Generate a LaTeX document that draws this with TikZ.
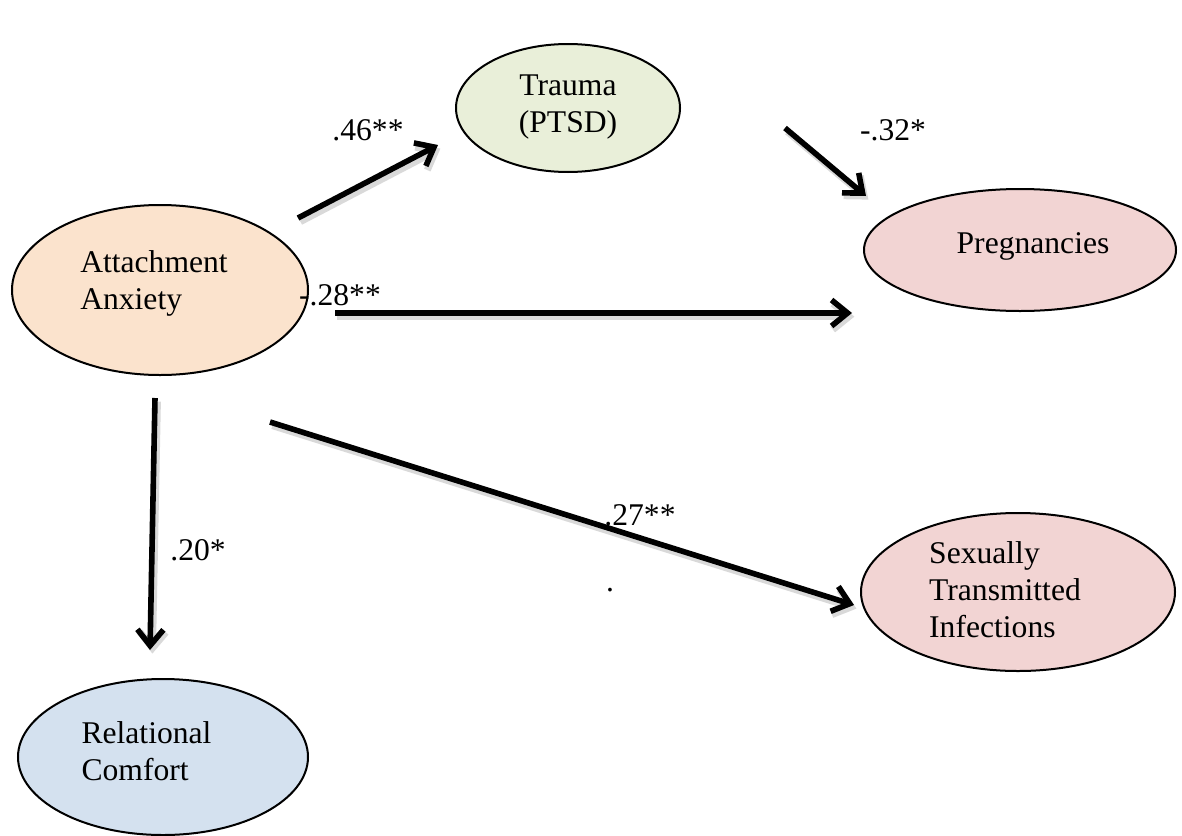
\documentclass[tikz,border=0pt]{standalone}
\usepackage{fontspec}
\setmainfont{Liberation Serif}
\usepackage{tikz}
\usetikzlibrary{arrows.meta,positioning,shapes.geometric}

\definecolor{peach}{HTML}{FBE3CD}
\definecolor{sage}{HTML}{E9EFD9}
\definecolor{rose}{HTML}{F2D4D3}
\definecolor{sky}{HTML}{D4E1EF}

% text block inside an ellipse: left pad, right pad, depth, column, lines
\newcommand{\vartext}[5]{\hspace*{#1}\raisebox{0pt}[12.95pt][#3]{%
  \begin{tabular}[t]{@{}#4@{}}#5\end{tabular}}\hspace*{#2}}

\begin{document}
\begin{tikzpicture}[x=0.5pt,y=-0.5pt,>={Straight Barb[length=8pt,width=13pt]},
    font=\rmfamily\fontsize{15.8}{18.5}\selectfont,
    var/.style={ellipse,draw,line width=1pt,inner sep=0pt},
    path/.style={->,line width=2.8pt,
      preaction={draw=black!15,line width=3.5pt,transform canvas={shift={(1.2pt,-1.8pt)}}}},
    coef/.style={inner sep=0pt}]

  \useasboundingbox (0,0) rectangle (1182,835);

  \node[var,fill=sage,minimum width=112pt,minimum height=64pt]
    (trauma) at (568,108) {\vartext{0pt}{0pt}{25.55pt}{c}{Trauma\\(PTSD)}};
  \node[var,fill=peach,minimum width=148pt,minimum height=85pt]
    (anx) at (160,290) {\vartext{0pt}{6pt}{30.55pt}{l}{Attachment\\Anxiety}};
  \node[var,fill=rose,minimum width=156pt,minimum height=61pt]
    (preg) at (1020,250) {\vartext{13pt}{0pt}{9.55pt}{l}{Pregnancies}};
  \node[var,fill=rose,minimum width=157pt,minimum height=79pt]
    (sti) at (1018,592) {\vartext{0pt}{13pt}{41.55pt}{l}{Sexually\\Transmitted\\Infections}};
  \node[var,fill=sky,minimum width=145pt,minimum height=78pt]
    (comfort) at (163,757) {\vartext{0pt}{16.5pt}{26.05pt}{l}{Relational\\Comfort}};

  % arrow ends
  \coordinate (a1s) at (298,218);  \coordinate (a1e) at (438,145);
  \coordinate (a2s) at (785,128);  \coordinate (a2e) at (866,196);
  \coordinate (a3s) at (335,313);  \coordinate (a3e) at (852,313);
  \coordinate (a4s) at (155,398);  \coordinate (a4e) at (150,650);
  \coordinate (a5s) at (270,422);  \coordinate (a5e) at (854,605);

  \draw[path] (a1s) -- (a1e);
  \draw[path] (a2s) -- (a2e);
  \draw[path] (a3s) -- (a3e);
  \draw[path] (a4s) -- (a4e);
  \draw[path] (a5s) -- (a5e);

  \node[coef] (c1) at (368,130) {.46**};
  \node[coef] (c2) at (893,130) {-.32*};
  \node[coef] (c3) at (340,295) {-.28**};
  \node[coef] (c4) at (198,550) {.20*};
  \node[coef] (c5) at (640,515) {.27**};
  \node[coef] (dot) at (610,590) {.};
\end{tikzpicture}
\end{document}
